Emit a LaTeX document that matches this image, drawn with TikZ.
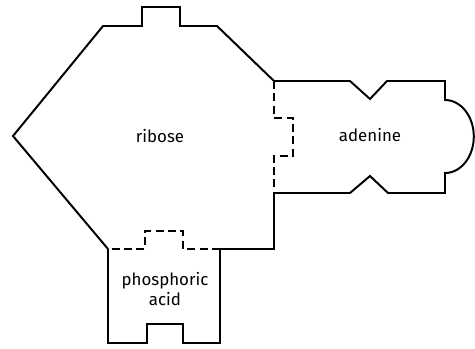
\documentclass[tikz,border=0pt]{standalone}
\usepackage{fontspec}
\setmainfont{Fira Sans}
\tikzset{
  outline/.style={line width=1.4pt, line join=miter},
  bondline/.style={line width=1.4pt, dash pattern=on 0.2cm off 0.11cm},
  label/.style={font=\fontsize{12}{14}\selectfont, align=center},
}
\begin{document}
\begin{tikzpicture}[x=0.025cm, y=-0.025cm]
                \useasboundingbox (0,0) rectangle (475,349);
                % ribose
                \draw[outline] (108,249) -- (13,136) -- (103,26) -- (142,26) -- (142,7)
                      -- (180,7) -- (180,26) -- (217,26) -- (274,81);
                \draw[outline] (274,193) -- (274,249) -- (220,249);
                % ribose / adenine joint
                \draw[bondline] (274,81) -- (274,118) -- (293,118) -- (293,156)
                      -- (274,156) -- (274,193);
                % ribose / phosphoric acid joint
                \draw[bondline] (220,249) -- (183,249) -- (183,231) -- (145,231)
                      -- (145,249) -- (108,249);
                % phosphoric acid
                \draw[outline] (108,249) -- (108,343) -- (147,343) -- (147,324)
                      -- (183,324) -- (183,343) -- (220,343) -- (220,249);
                % adenine
                \draw[outline] (274,81) -- (350,81) -- (370,99) -- (387,81) -- (445,81)
                      -- (445,100) arc[start angle=90, end angle=-90, x radius=0.72cm, y radius=0.9125cm]
                      -- (445,193) -- (388,193) -- (370,176) -- (350,193) -- (274,193);
                \node[label] (ribose) at (160,136) {ribose};
                \node[label] (adenine) at (370,135) {adenine};
                \node[label] (phosphoric) at (165,289) {phosphoric\\acid};
\end{tikzpicture}
\end{document}
